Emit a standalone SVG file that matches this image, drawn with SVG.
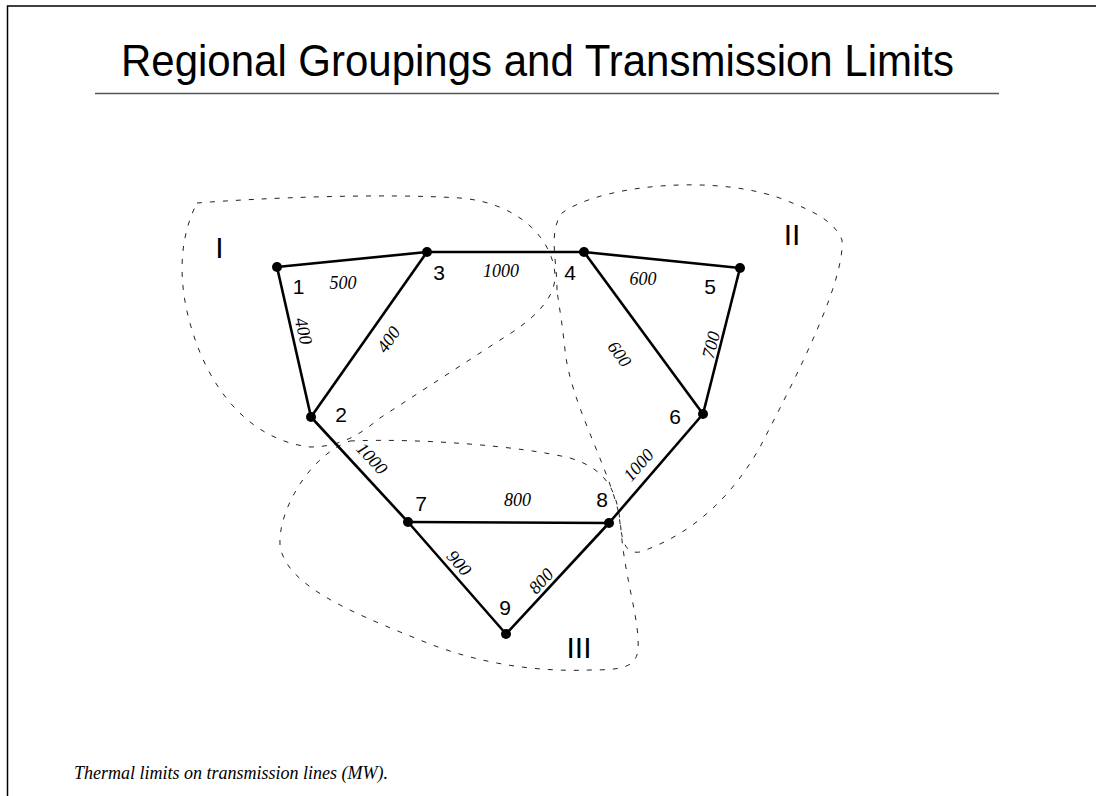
<svg xmlns="http://www.w3.org/2000/svg" width="1096" height="796" viewBox="0 0 1096 796">
<style>
.frame{fill:none;stroke:#000;stroke-width:1.5}
.rule{stroke:#555;stroke-width:1.5}
.title{font-family:"Liberation Sans",Arial,sans-serif;font-size:44px;fill:#000}
.region{fill:none;stroke:#222;stroke-width:1;stroke-dasharray:5 8}
.edge{stroke:#000;stroke-width:2.6;fill:none}
.dot{fill:#000}
.nlab{font-family:"Liberation Sans",Arial,sans-serif;font-size:21px;fill:#000;text-anchor:middle}
.rlab{font-family:"Liberation Sans",Arial,sans-serif;font-size:30px;fill:#000;text-anchor:middle}
.elab{font-family:"Liberation Serif","Times New Roman",serif;font-style:italic;font-size:18px;fill:#000;text-anchor:middle}
.cap{font-family:"Liberation Serif","Times New Roman",serif;font-style:italic;font-size:18px;fill:#000}
</style>
<rect width="1096" height="796" fill="#fff"/>
<path class="frame" d="M7.5,796 V6 H1096"/>
<text class="title" x="121" y="76" textLength="833" lengthAdjust="spacingAndGlyphs">Regional Groupings and Transmission Limits</text>
<line class="rule" x1="95" y1="93.5" x2="999" y2="93.5"/>

<g id="regions">
<path id="region-I" class="region" d="M197,203 C260,198 380,193 460,198 C520,203 553,240 555,275 C556,300 530,322 500,340 L380,418 C365,430 345,447 310,447 C250,440 210,390 192,330 C178,285 178,240 197,203 Z"/>
<path id="region-II" class="region" d="M557,290 C557,260 548,232 562,213 C600,185 720,172 790,202 C815,212 835,222 842,240 C845,280 800,370 760,447 C730,500 690,535 640,552 C620,555 622,530 618,510 C605,460 570,400 565,350 C562,320 558,300 557,290 Z"/>
<path id="region-III" class="region" d="M350,441 C420,438 520,446 570,458 C610,470 618,495 621,530 C625,580 640,620 638,650 C636,668 620,670 590,670 C540,672 480,665 420,640 C350,612 285,585 280,545 C278,510 310,455 350,441 Z"/>
<text class="rlab" x="219.5" y="258">I</text>
<text class="rlab" x="792" y="245">II</text>
<text class="rlab" x="579" y="658">III</text>
</g>

<g id="connectors">
<line class="edge" x1="277" y1="267" x2="427" y2="252"/>
<line class="edge" x1="277" y1="267" x2="311" y2="417"/>
<line class="edge" x1="311" y1="417" x2="427" y2="252"/>
<line class="edge" x1="427" y1="252" x2="584" y2="252"/>
<line class="edge" x1="584" y1="252" x2="740" y2="268"/>
<line class="edge" x1="584" y1="252" x2="703" y2="414"/>
<line class="edge" x1="740" y1="268" x2="703" y2="414"/>
<line class="edge" x1="311" y1="417" x2="408" y2="522"/>
<line class="edge" x1="703" y1="414" x2="609" y2="523"/>
<line class="edge" x1="408" y1="522" x2="609" y2="523"/>
<line class="edge" x1="408" y1="522" x2="506" y2="634"/>
<line class="edge" x1="506" y1="634" x2="609" y2="523"/>
<text class="elab" x="343" y="289">500</text>
<text class="elab" x="501" y="277">1000</text>
<text class="elab" x="643" y="285">600</text>
<text class="elab" x="517.5" y="506">800</text>
<text class="elab" transform="translate(303.5,331) rotate(77)" x="0" y="6">400</text>
<text class="elab" transform="translate(388.5,339.5) rotate(-55)" x="0" y="6">400</text>
<text class="elab" transform="translate(619.5,354) rotate(53.6)" x="0" y="6">600</text>
<text class="elab" transform="translate(711,345) rotate(-76)" x="0" y="6">700</text>
<text class="elab" transform="translate(372,458.5) rotate(47)" x="0" y="6">1000</text>
<text class="elab" transform="translate(638.5,465) rotate(-49)" x="0" y="6">1000</text>
<text class="elab" transform="translate(459,563) rotate(49)" x="0" y="6">900</text>
<text class="elab" transform="translate(541,581) rotate(-47)" x="0" y="6">800</text>
</g>

<g id="node-1"><circle class="dot" cx="277" cy="267" r="5"/><text class="nlab" x="298.5" y="294">1</text></g>
<g id="node-2"><circle class="dot" cx="311" cy="417" r="5"/><text class="nlab" x="341" y="421.5">2</text></g>
<g id="node-3"><circle class="dot" cx="427" cy="252" r="5"/><text class="nlab" x="439" y="280">3</text></g>
<g id="node-4"><circle class="dot" cx="584" cy="252" r="5"/><text class="nlab" x="570" y="280">4</text></g>
<g id="node-5"><circle class="dot" cx="740" cy="268" r="5"/><text class="nlab" x="710" y="294">5</text></g>
<g id="node-6"><circle class="dot" cx="703" cy="414" r="5"/><text class="nlab" x="675" y="424">6</text></g>
<g id="node-7"><circle class="dot" cx="408" cy="522" r="5"/><text class="nlab" x="421" y="510.5">7</text></g>
<g id="node-8"><circle class="dot" cx="609" cy="523" r="5"/><text class="nlab" x="602" y="507">8</text></g>
<g id="node-9"><circle class="dot" cx="506" cy="634" r="5"/><text class="nlab" x="505" y="615">9</text></g>

<text class="cap" x="74" y="779">Thermal limits on transmission lines (MW).</text>
</svg>
